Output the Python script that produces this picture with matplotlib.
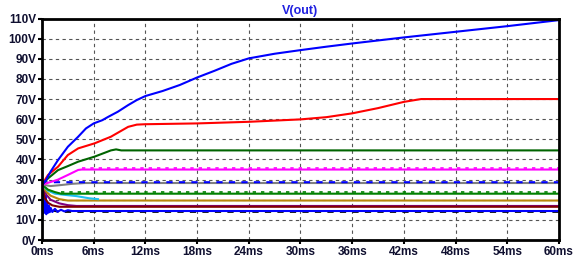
import numpy as np
import matplotlib
matplotlib.use("Agg")
import matplotlib.pyplot as plt

# time in ms, voltage in V
t_blue = [0, 0.05, 0.5, 1, 1.86, 3, 4.2, 5.1, 6, 7, 7.7, 8.8, 10, 11, 12, 14, 16, 18, 20, 22, 24, 27, 30, 33, 36, 39, 42, 45, 48, 51, 54, 57, 60]
v_blue = [0, 27.5, 30, 34, 39.7, 46.3, 51.3, 55.4, 57.9, 59.5, 61.2, 63.7, 67, 69.5, 71.5, 74, 77, 80.7, 84, 87.5, 90.2, 92.5, 94.3, 96, 97.6, 99.1, 100.6, 102, 103.4, 104.8, 106.2, 107.7, 109.2]

t_red = [0, 0.7, 1.86, 3, 4.2, 6.1, 8, 10, 11, 12, 18, 24, 30, 33, 36, 39, 42, 44, 60]
v_red = [27.5, 32.3, 36.4, 42.2, 45.5, 48, 51.3, 56.2, 57.3, 57.5, 57.9, 58.7, 59.9, 61, 62.9, 65.5, 68.6, 70, 70]

t_dgreen = [0, 0.7, 1.86, 3, 4.2, 6.1, 8, 8.6, 9.2, 60]
v_dgreen = [27.5, 30.6, 34.7, 36.7, 38.9, 41.4, 44.5, 45, 44.5, 44.5]

t_magenta = [0, 1, 1.86, 3, 4.2, 4.6, 60]
v_magenta = [27.5, 28.8, 30, 32.3, 34.8, 35.0, 35.0]
# upper edge of the small switching ripple on the magenta trace
t_magenta_rip = [4.6, 60]
v_magenta_rip = [35.6, 35.6]

t_gray = [0, 1, 2, 3.5, 5, 60]
v_gray = [27.5, 26.8, 27.2, 27.9, 28.3, 28.3]

t_navy = [0, 0.5, 60]
v_navy = [27.5, 28.7, 28.7]

t_green = [0, 0.7, 1.5, 2.2, 3, 60]
v_green = [27.5, 25, 23.8, 23.0, 23.0, 23.0]
t_green_rip = [2.2, 60]
v_green_rip = [23.6, 23.6]

t_cyan = [0, 0.7, 1.5, 2.5, 4, 5.5, 6.5]
v_cyan = [27.5, 24.5, 23, 22.5, 21.8, 20.7, 20.3]

t_gold = [0, 0.5, 1, 2, 3, 60]
v_gold = [27.5, 24, 22, 20.3, 19.6, 19.6]

t_purple = [0, 0.5, 1, 2, 3, 4, 60]
v_purple = [27.5, 22.5, 20, 18.2, 17.3, 16.9, 16.9]

t_maroon = [0, 0.3, 0.7, 1.2, 2, 60]
v_maroon = [27.5, 21, 18.5, 17.2, 16.5, 16.5]

t_black = [0, 0.2, 0.4, 0.6, 0.9, 1.3, 2, 60]
v_black = [27.5, 16, 14, 15.2, 13.8, 14.6, 14.0, 14.0]

t_low = [0, 0.1, 0.2, 0.3, 0.4, 0.5, 0.6, 0.7, 0.8, 0.9, 1.0, 1.2, 1.5, 1.8, 2.2, 2.6, 3.0, 3.5, 60]
v_low = [27.5, 13, 25, 13.5, 22, 12.8, 19, 13.5, 17, 13.8, 16, 13.9, 15.5, 14, 15, 14.2, 14.8, 14.4, 14.4]

xticks = [0, 6, 12, 18, 24, 30, 36, 42, 48, 54, 60]
yticks = [0, 10, 20, 30, 40, 50, 60, 70, 80, 90, 100, 110]

fig = plt.figure(figsize=(5.8, 2.67), dpi=100)
ax = fig.add_axes([0.0724, 0.1011, 0.8914, 0.8296])

lw = 1.5
ax.plot(t_black, v_black, color="black", lw=lw, dashes=(3, 3))
ax.plot(t_low, v_low, color="#0000ff", lw=lw)
ax.plot(t_purple, v_purple, color="#800080", lw=lw)
ax.plot(t_maroon, v_maroon, color="#800000", lw=lw)
ax.plot(t_gold, v_gold, color="#b8860b", lw=lw)
ax.plot(t_cyan, v_cyan, color="#1ec0f0", lw=lw)
ax.plot(t_green, v_green, color="#008000", lw=lw)
ax.plot(t_green_rip, v_green_rip, color="#008000", lw=1.2, dashes=(2, 3))
ax.plot(t_gray, v_gray, color="#808080", lw=lw)
ax.plot(t_navy, v_navy, color="#0000ff", lw=lw, dashes=(3, 3))
ax.plot(t_magenta, v_magenta, color="#ff00ff", lw=lw)
ax.plot(t_magenta_rip, v_magenta_rip, color="#ff00ff", lw=1.2, dashes=(2, 3))
ax.plot(t_dgreen, v_dgreen, color="#006400", lw=lw)
ax.plot(t_red, v_red, color="#ff0000", lw=lw)
ax.plot(t_blue, v_blue, color="#0000ff", lw=lw)

ax.set_xlim(0, 60)
ax.set_ylim(0, 110)
ax.set_xticks(xticks)
ax.set_yticks(yticks)
ax.set_xticklabels(["%dms" % x for x in xticks])
ax.set_yticklabels(["%dV" % y for y in yticks])
ax.grid(True, color="#555555", lw=0.8, dashes=(3, 3))
ax.tick_params(direction="out", length=3, width=1.5, pad=1, labelsize=8.5, labelcolor="#101030")
for lab in ax.get_xticklabels() + ax.get_yticklabels():
    lab.set_fontweight("bold")
    lab.set_family("Liberation Sans")
for s in ax.spines.values():
    s.set_linewidth(2)
    s.set_color("black")

ax.set_title("V(out)", color="#2020e0", fontsize=9, fontweight="bold", family="Liberation Sans", pad=3)

fig.savefig("out.png", dpi=100)
